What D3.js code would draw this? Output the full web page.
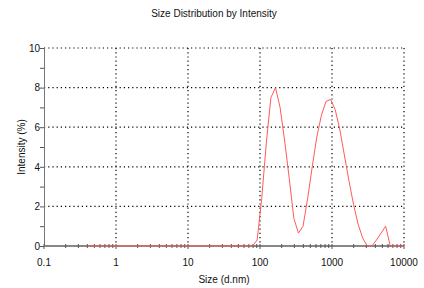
<!DOCTYPE html>
<html>
<head>
<meta charset="utf-8">
<script src="https://cdn.jsdelivr.net/npm/d3@7"></script>
<style>
  body { margin: 0; background: #fff; }
  text { font-family: "Liberation Sans Narrow", "Liberation Sans", Arial, sans-serif; fill: #111; }
</style>
</head>
<body>
<div id="chart"></div>
<script>
// size bins (d.nm) and intensity (%)
var sizes = [0.4, 0.4632, 0.5365, 0.6213, 0.7195, 0.8332, 0.9649, 1.117, 1.294, 1.499,
    1.736, 2.01, 2.328, 2.696, 3.122, 3.615, 4.187, 4.849, 5.615, 6.503,
    7.531, 8.721, 10.1, 11.7, 13.54, 15.69, 18.17, 21.04, 24.36, 28.21,
    32.67, 37.84, 43.82, 50.75, 58.77, 68.06, 78.82, 91.28, 105.7, 122.4,
    141.8, 164.2, 190.1, 220.2, 255.0, 295.3, 342.0, 396.1, 458.7, 531.2,
    615.1, 712.4, 825.0, 955.4, 1106, 1281, 1484, 1718, 1990, 2305,
    2669, 3091, 3580, 4145, 4801, 5560, 6439, 7456, 8635, 10000];
var intensity = [0, 0, 0, 0, 0, 0, 0, 0, 0, 0,
    0, 0, 0, 0, 0, 0, 0, 0, 0, 0,
    0, 0, 0, 0, 0, 0, 0, 0, 0, 0,
    0, 0, 0, 0, 0, 0, 0, 0.3, 2.4, 5.2,
    7.5, 8.0, 7.0, 5.3, 3.4, 1.4, 0.65, 1.0, 2.4, 4.0,
    5.5, 6.6, 7.3, 7.4, 6.9, 5.9, 4.6, 3.3, 2.1, 1.1,
    0.4, 0, 0, 0.3, 0.65, 1.0, 0, 0, 0, 0];

var xTickLabels = ["0.1", "1", "10", "100", "1000", "10000"];
var yTicks = [0, 2, 4, 6, 8, 10];

var W = 424, H = 288;
var margin = { top: 48, right: 20, bottom: 42, left: 44 };
var width = W - margin.left - margin.right;
var height = H - margin.top - margin.bottom;

var svg = d3.select("#chart").append("svg")
    .attr("width", W)
    .attr("height", H);

var g = svg.append("g")
    .attr("transform", "translate(" + margin.left + "," + margin.top + ")");

var x = d3.scaleLog().domain([0.1, 10000]).range([0, width]);
var y = d3.scaleLinear().domain([0, 10]).range([height, 0]);

var majors = xTickLabels.map(function(t) { return +t; });
var minors = [];
for (var e = -1; e < 4; e++) {
    for (var k = 2; k < 10; k++) minors.push(k * Math.pow(10, e));
}

// dotted grid
g.selectAll(".hgrid").data(yTicks.filter(function(d) { return d > 0; }))
    .enter().append("line")
    .attr("x1", 0).attr("x2", width)
    .attr("y1", function(d) { return y(d); })
    .attr("y2", function(d) { return y(d); })
    .style("stroke", "#000").style("stroke-width", 1.2)
    .style("stroke-dasharray", "1.2,3");

g.selectAll(".vgrid").data(majors.filter(function(d) { return d > 0.1; }))
    .enter().append("line")
    .attr("x1", function(d) { return x(d); })
    .attr("x2", function(d) { return x(d); })
    .attr("y1", 0).attr("y2", height)
    .style("stroke", "#000").style("stroke-width", 1.2)
    .style("stroke-dasharray", "1.2,3");

// y axis
var yAxis = d3.axisLeft(y).tickValues(d3.range(0, 11, 1)).tickSize(4)
    .tickFormat(function(d) { return d % 2 === 0 ? d : ""; });
var ya = g.append("g").call(yAxis);
ya.select(".domain").style("stroke", "#777");
ya.selectAll(".tick line").style("stroke", "#555");
ya.selectAll(".tick text").style("font-size", "10px").attr("x", -4);

// x axis
var xa = g.append("g").attr("transform", "translate(0," + height + ")");
xa.append("line").attr("x1", 0).attr("x2", width)
    .style("stroke", "#888").style("stroke-width", 2);
xa.selectAll(".minor").data(minors).enter().append("line")
    .attr("x1", function(d) { return x(d); }).attr("x2", function(d) { return x(d); })
    .attr("y1", -2).attr("y2", 2).style("stroke", "#555");
xa.selectAll(".major").data(majors).enter().append("line")
    .attr("x1", function(d) { return x(d); }).attr("x2", function(d) { return x(d); })
    .attr("y1", -2).attr("y2", 3).style("stroke", "#555");
xa.selectAll(".lab").data(xTickLabels).enter().append("text")
    .attr("x", function(d) { return x(+d); })
    .attr("y", 20)
    .attr("text-anchor", "middle")
    .style("font-size", "10px")
    .text(function(d) { return d; });

// curve
var line = d3.line()
    .x(function(d, i) { return x(sizes[i]); })
    .y(function(d) { return y(d); });
g.append("path").datum(intensity)
    .attr("d", line)
    .style("fill", "none")
    .style("stroke", "#ff5a5a")
    .style("stroke-width", 1);

// titles
svg.append("text").attr("x", 214).attr("y", 17)
    .attr("text-anchor", "middle").style("font-size", "10px")
    .text("Size Distribution by Intensity");
svg.append("text").attr("x", margin.left + x(100) - 36).attr("y", 283)
    .attr("text-anchor", "middle").style("font-size", "10px")
    .text("Size (d.nm)");
svg.append("text")
    .attr("transform", "translate(25," + (margin.top + height / 2) + ") rotate(-90)")
    .attr("text-anchor", "middle").style("font-size", "10px")
    .text("Intensity (%)");
</script>
</body>
</html>
